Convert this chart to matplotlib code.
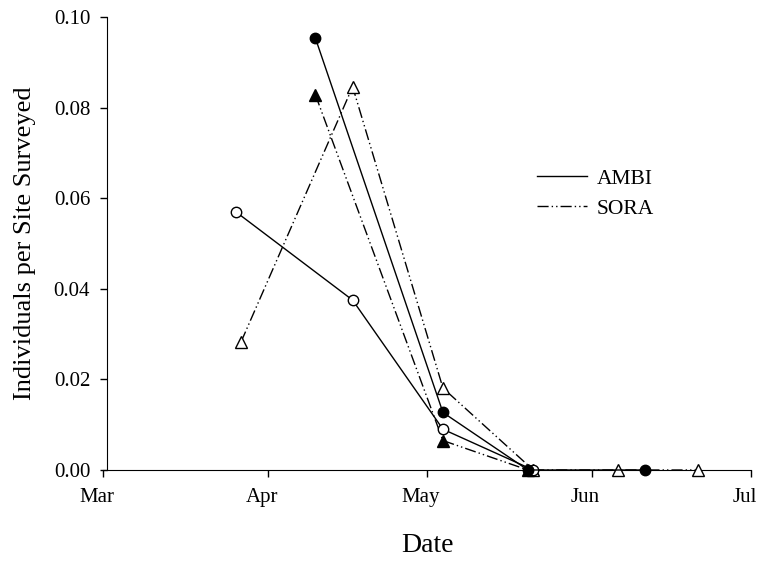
import datetime as dt
import matplotlib
matplotlib.use("Agg")
import matplotlib.pyplot as plt
import matplotlib.dates as mdates
import matplotlib.transforms as mtransforms
from matplotlib.lines import Line2D

plt.rcParams['font.family'] = ['Liberation Serif', 'DejaVu Serif']

YEAR = 2000
def d(m, day):
    return dt.date(YEAR, m, day)

# AMBI, filled circles
ambi_a_dates = [d(4, 10), d(5, 4), d(5, 20), d(6, 11)]
ambi_a_vals = [0.0953, 0.0127, 0.0, 0.0]
# AMBI, open circles
ambi_b_dates = [d(3, 26), d(4, 17), d(5, 4), d(5, 21)]
ambi_b_vals = [0.0570, 0.0375, 0.0090, 0.0]
# SORA, filled triangles
sora_a_dates = [d(4, 10), d(5, 4), d(5, 20)]
sora_a_vals = [0.0828, 0.0065, 0.0]
# SORA, open triangles
sora_b_dates = [d(3, 27), d(4, 17), d(5, 4), d(5, 21), d(6, 6), d(6, 21)]
sora_b_vals = [0.0283, 0.0846, 0.0181, 0.0, 0.0, 0.0]

dashdotdot = (0, (8, 2.2, 1, 2.2, 1, 2.2))

fig = plt.figure(figsize=(7.59, 5.61), dpi=100)
ax = fig.add_axes([103 / 759, 91 / 561, 648 / 759, 453 / 561])

kw = dict(color='black', lw=1, clip_on=False, zorder=5, markeredgewidth=1)
ax.plot(sora_b_dates, sora_b_vals, linestyle=dashdotdot, marker='^', ms=8,
        markerfacecolor='white', markeredgecolor='black', **kw)
ax.plot(sora_a_dates, sora_a_vals, linestyle=dashdotdot, marker='^', ms=8,
        markerfacecolor='black', markeredgecolor='black', **kw)
ax.plot(ambi_b_dates, ambi_b_vals, linestyle='-', marker='o', ms=7.5,
        markerfacecolor='white', markeredgecolor='black', **kw)
ax.plot(ambi_a_dates, ambi_a_vals, linestyle='-', marker='o', ms=7.5,
        markerfacecolor='black', markeredgecolor='black', **kw)

ax.set_xlim(d(3, 1), d(7, 1))
ax.set_ylim(0, 0.10)
ax.set_yticks([0.0, 0.02, 0.04, 0.06, 0.08, 0.10])
ax.yaxis.set_major_formatter(plt.FormatStrFormatter('%.2f'))
ax.xaxis.set_major_locator(mdates.MonthLocator())
ax.xaxis.set_major_formatter(mdates.DateFormatter('%b'))

ax.spines['top'].set_visible(False)
ax.spines['right'].set_visible(False)
ax.spines['left'].set_position(('axes', 0.006))
ax.tick_params(direction='out', length=5, width=1, labelsize=15, colors='black')
ax.tick_params(axis='y', pad=7)
ax.tick_params(axis='x', pad=8)

# month labels sit slightly left of their ticks
shift = mtransforms.ScaledTranslation(-6 / 100, 0, fig.dpi_scale_trans)
for lab in ax.get_xticklabels():
    lab.set_transform(lab.get_transform() + shift)

ax.set_xlabel('Date', fontsize=20, labelpad=19)
ax.set_ylabel('Individuals per Site Surveyed', fontsize=19, labelpad=13)

handles = [Line2D([], [], color='black', lw=1, linestyle='-'),
           Line2D([], [], color='black', lw=1, linestyle=dashdotdot)]
ax.legend(handles, ['AMBI', 'SORA'], frameon=False, fontsize=15.5,
          loc='center left', bbox_to_anchor=(0.640, 0.61),
          handlelength=2.3, handletextpad=0.45, labelspacing=0.45)

fig.savefig('out.png', dpi=100)
